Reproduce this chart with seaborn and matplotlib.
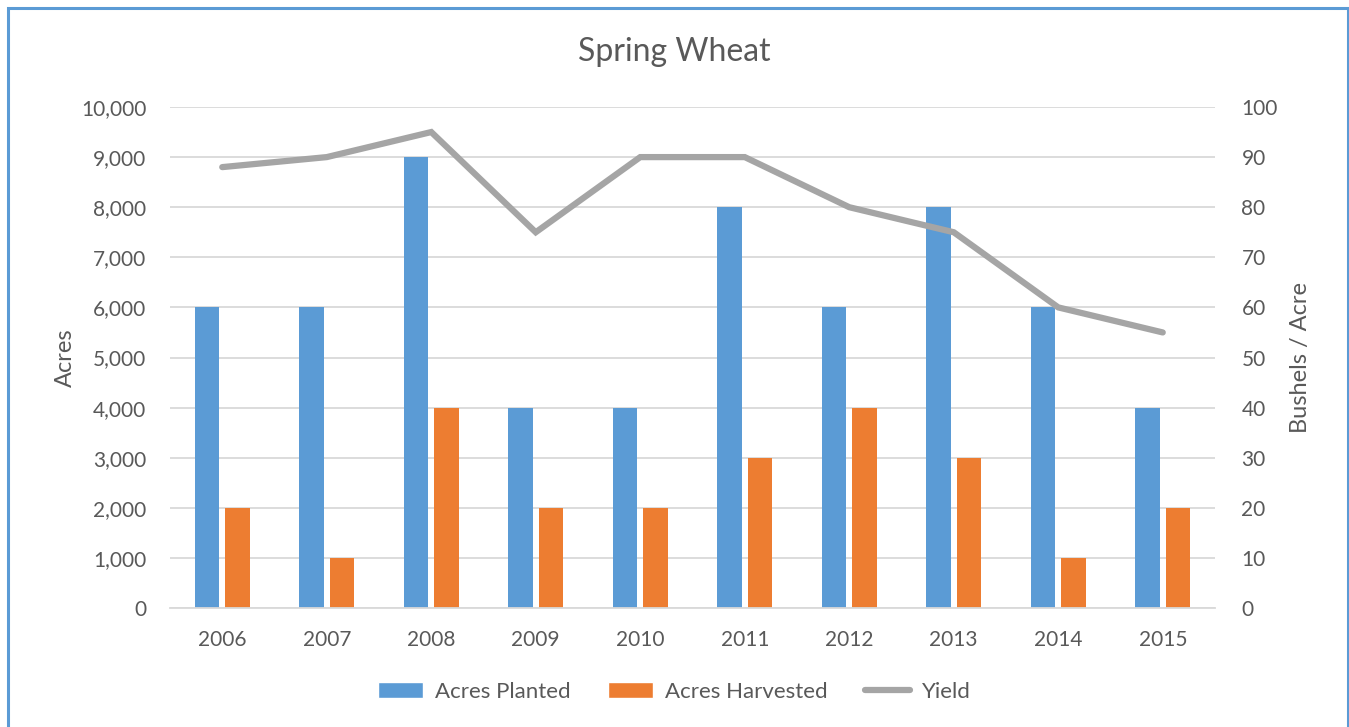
import matplotlib
matplotlib.use("Agg")
import matplotlib.pyplot as plt
import seaborn as sns
import pandas as pd
import numpy as np
from matplotlib.patches import Rectangle, Patch
from matplotlib.lines import Line2D
from matplotlib.ticker import FuncFormatter, MultipleLocator

years = ["2006", "2007", "2008", "2009", "2010", "2011", "2012", "2013", "2014", "2015"]
acres_planted = [6000, 6000, 9000, 4000, 4000, 8000, 6000, 8000, 6000, 4000]
acres_harvested = [2000, 1000, 4000, 2000, 2000, 3000, 4000, 3000, 1000, 2000]
yield_bpa = [88, 90, 95, 75, 90, 90, 80, 75, 60, 55]

series_names = ["Acres Planted", "Acres Harvested", "Yield"]
colors = ["#5B9BD5", "#ED7D31", "#A5A5A5"]
text_color = "#595959"
grid_color = "#D9D9D9"

sns.set_theme(style="white")
plt.rcParams['font.family'] = ['Lato', 'DejaVu Sans']

df = pd.DataFrame({
    "Year": years * 2,
    "Acres": acres_planted + acres_harvested,
    "Series": [series_names[0]] * len(years) + [series_names[1]] * len(years),
})

fig = plt.figure(figsize=(13.49, 7.27), dpi=100)
ax = fig.add_axes([170 / 1349, 1 - 608 / 727, (1215 - 170) / 1349, (608 - 107) / 727])

sns.barplot(data=df, x="Year", y="Acres", hue="Series", palette=colors[:2],
            width=0.58, gap=0.2, ax=ax, legend=False, saturation=1, linewidth=0)

ax.set_ylim(0, 10000)
ax.set_xlim(-0.5, len(years) - 0.5)
ax.yaxis.set_major_locator(MultipleLocator(1000))
ax.yaxis.set_major_formatter(FuncFormatter(lambda v, p: f"{int(v):,}"))
ax.grid(axis="y", color=grid_color, linewidth=1.3)
ax.set_axisbelow(True)
for s in ["top", "right", "left"]:
    ax.spines[s].set_visible(False)
ax.spines["bottom"].set_color(grid_color)
ax.spines["bottom"].set_linewidth(1.3)
ax.tick_params(axis="y", length=0, labelsize=15, colors=text_color, pad=17)
ax.tick_params(axis="x", length=0, labelsize=15, colors=text_color, pad=16)
ax.set_xlabel("")
ax.set_ylabel("Acres", fontsize=17, color=text_color, labelpad=4)

ax2 = ax.twinx()
sns.lineplot(x=np.arange(len(years)), y=yield_bpa, ax=ax2, color=colors[2],
             linewidth=4.5, solid_capstyle="round", solid_joinstyle="miter")
ax2.set_ylim(0, 100)
ax2.yaxis.set_major_locator(MultipleLocator(10))
for s in ["top", "right", "left", "bottom"]:
    ax2.spines[s].set_visible(False)
ax2.tick_params(axis="y", length=0, labelsize=15, colors=text_color, pad=19)
ax2.set_ylabel("Bushels / Acre", fontsize=17, color=text_color, labelpad=9)
ax2.grid(False)

fig.text(0.5, 1 - 52 / 727, "Spring Wheat", ha="center", va="center",
         fontsize=23, color=text_color)

handles = [Patch(facecolor=colors[0]), Patch(facecolor=colors[1]),
           Line2D([0], [0], color=colors[2], linewidth=4.5)]
leg = fig.legend(handles, series_names, loc="center", bbox_to_anchor=(0.5, 1 - 692 / 727),
                 ncol=3, frameon=False, fontsize=16, handlelength=2.0, handleheight=0.7,
                 columnspacing=1.7, handletextpad=0.55)
for t in leg.get_texts():
    t.set_color(text_color)

fig.patches.append(Rectangle((8 / 1349, -0.05), (1348 - 8) / 1349, 1 - 8 / 727 + 0.05,
                             transform=fig.transFigure, fill=False,
                             edgecolor="#5B9BD5", linewidth=2.2))

fig.savefig("out.png", dpi=100)
